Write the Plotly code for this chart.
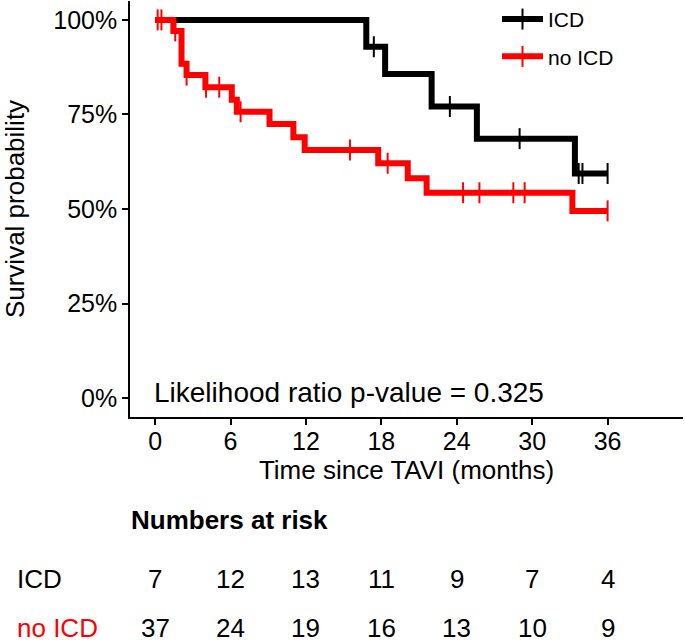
import plotly.graph_objects as go

# ---- data ----
icd_time = [0, 16.8, 18.3, 22.0, 25.6, 33.4, 36.0]
icd_surv = [1.0, 0.929, 0.857, 0.771, 0.686, 0.594, 0.594]
icd_cens_time = [17.4, 23.45, 29.0, 33.7, 34.0, 36.0]
icd_cens_surv = [0.929, 0.771, 0.686, 0.594, 0.594, 0.594]

noicd_time = [0, 1.45, 2.1, 2.5, 4.0, 6.1, 6.5, 9.1, 11.0, 11.9, 17.75, 20.1, 21.6, 33.2, 36.0]
noicd_surv = [1.0, 0.971, 0.884, 0.854, 0.822, 0.789, 0.757, 0.725, 0.690, 0.656, 0.621, 0.581, 0.543, 0.495, 0.495]
noicd_cens_time = [0.2, 0.5, 1.6, 2.5, 4.05, 5.1, 6.8, 15.5, 18.5, 24.5, 25.8, 28.5, 29.4, 36.0]
noicd_cens_surv = [1.0, 1.0, 0.971, 0.854, 0.822, 0.822, 0.757, 0.656, 0.621, 0.543, 0.543, 0.543, 0.543, 0.495]

risk_times = [0, 6, 12, 18, 24, 30, 36]
risk_icd = [7, 12, 13, 11, 9, 7, 4]
risk_noicd = [37, 24, 19, 16, 13, 10, 9]

y_ticks = [0, 0.25, 0.5, 0.75, 1.0]
y_ticklabels = ["0%", "25%", "50%", "75%", "100%"]
x_ticks = [0, 6, 12, 18, 24, 30, 36]

groups = ["ICD", "no ICD"]
colors = ["#000000", "#FF0000"]

FONT = "Liberation Sans, Arial, sans-serif"

fig = go.Figure()

series = [
    (icd_time, icd_surv, icd_cens_time, icd_cens_surv),
    (noicd_time, noicd_surv, noicd_cens_time, noicd_cens_surv),
]

for name, col, (t, s, ct, cs) in zip(groups, colors, series):
    fig.add_trace(go.Scatter(
        x=t, y=s, mode="lines", line=dict(color=col, width=6, shape="hv"),
        name=name, legendgroup=name, showlegend=False, hoverinfo="skip"))
    fig.add_trace(go.Scatter(
        x=ct, y=cs, mode="markers",
        marker=dict(symbol="line-ns", size=15, line=dict(color=col, width=2)),
        name=name, legendgroup=name, showlegend=False, hoverinfo="skip"))

for name, col in zip(groups, colors):
    fig.add_trace(go.Scatter(
        x=[None], y=[None], mode="lines+markers", name=name, legendgroup=name,
        line=dict(color=col, width=6),
        marker=dict(symbol="line-ns", size=15, line=dict(color=col, width=2))))

# p-value annotation
fig.add_annotation(x=0, y=0.016, xref="x", yref="y", text="Likelihood ratio p-value = 0.325",
                   showarrow=False, xanchor="left", yanchor="middle", xshift=-3,
                   font=dict(family=FONT, size=28, color="black"))

# Numbers at risk table
PLOT_TOP, PLOT_BOT, PLOT_L, PLOT_W = 1, 417, 130, 553
def py(p):
    return (PLOT_BOT - p) / (PLOT_BOT - PLOT_TOP)
def px(p):
    return (p - PLOT_L) / PLOT_W

fig.add_annotation(x=px(129), y=py(520), xref="paper", yref="paper",
                   text="<b>Numbers at risk</b>", showarrow=False, xanchor="left", yanchor="middle",
                   font=dict(family=FONT, size=26, color="black"))
row_y = [py(579), py(628)]
for name, col, vals, ry in zip(groups, colors, [risk_icd, risk_noicd], row_y):
    fig.add_annotation(x=px(15), y=ry, xref="paper", yref="paper", text=name,
                       showarrow=False, xanchor="left", yanchor="middle",
                       font=dict(family=FONT, size=26, color=col))
    for tt, v in zip(risk_times, vals):
        fig.add_annotation(x=tt, y=ry, xref="x", yref="paper", text=str(v),
                           showarrow=False, xanchor="center", yanchor="middle",
                           font=dict(family=FONT, size=26, color="black"))

fig.update_layout(
    width=685, height=642,
    margin=dict(l=130, r=2, t=1, b=225, autoexpand=False),
    paper_bgcolor="white", plot_bgcolor="white",
    font=dict(family=FONT, color="black"),
    showlegend=True,
    legend=dict(x=px(497), y=1.005, xanchor="left", yanchor="top",
                font=dict(family=FONT, size=21, color="black"),
                bgcolor="rgba(0,0,0,0)", tracegroupgap=7, itemwidth=41),
    xaxis=dict(range=[-2, 42], tickvals=x_ticks, ticks="outside", ticklen=6, tickwidth=1.5,
               tickcolor="black", showline=True, linecolor="black", linewidth=1.5,
               showgrid=False, zeroline=False, automargin=False, ticklabelstandoff=-5,
               tickfont=dict(family=FONT, size=25, color="black"),
               title=dict(text="Time since TAVI (months)", font=dict(family=FONT, size=26), standoff=0)),
    yaxis=dict(range=[-0.05, 1.05], tickvals=y_ticks, ticktext=y_ticklabels, ticks="outside",
               ticklen=6, tickwidth=1.5, tickcolor="black", showline=True, linecolor="black",
               linewidth=1.5, showgrid=False, zeroline=False, automargin=False,
               tickfont=dict(family=FONT, size=25, color="black"),
               title=dict(text="Survival probability", font=dict(family=FONT, size=26), standoff=27)),
)

fig.write_html("out.html", config={"displayModeBar": False},
               post_script="document.body.style.margin='0';")
